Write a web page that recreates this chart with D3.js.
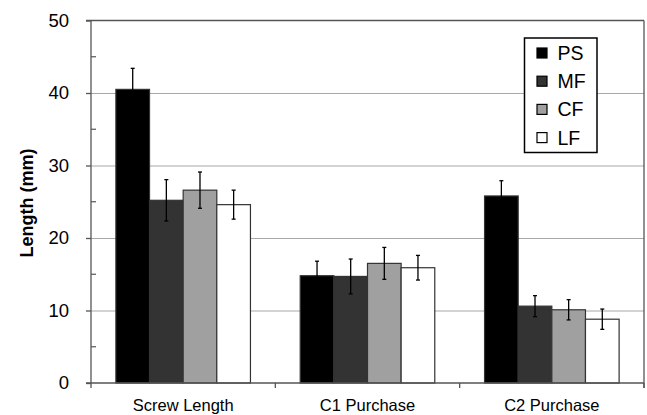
<!DOCTYPE html>
<html><head><meta charset="utf-8">
<script src="https://cdn.jsdelivr.net/npm/d3@7"></script>
<style>body{margin:0;background:#fff}svg{display:block}text{font-family:Arial,"Liberation Sans",sans-serif;fill:#000}</style>
</head><body><svg id="c" width="647" height="415"></svg>
<script>
const categories = ["Screw Length", "C1 Purchase", "C2 Purchase"];
const seriesNames = ["PS", "MF", "CF", "LF"];
const seriesColors = ["#000000", "#333333", "#a0a0a0", "#ffffff"];
const PS = [40.5, 14.8, 25.8];
const MF = [25.2, 14.7, 10.6];
const CF = [26.6, 16.5, 10.1];
const LF = [24.6, 15.9, 8.8];
const PS_err = [2.9, 2.0, 2.1];
const MF_err = [2.85, 2.4, 1.45];
const CF_err = [2.5, 2.2, 1.4];
const LF_err = [2.0, 1.7, 1.4];
const yTicks = [0, 10, 20, 30, 40, 50];
const yMinor = [5, 15, 25, 35, 45];

const values = [PS, MF, CF, LF];
const errs = [PS_err, MF_err, CF_err, LF_err];

const svg = d3.select("#c");
const L = 91, R = 644, T = 20.5, B = 383;
const x0 = d3.scaleBand().domain(categories).range([L, R]).paddingInner(0.27).paddingOuter(0.135);
const x1 = d3.scaleBand().domain(seriesNames).range([0, x0.bandwidth()]);
const y = d3.scaleLinear().domain([0, 50]).range([B, T]);

// gridlines
svg.append("g").selectAll("line").data(yTicks.filter(d => d > 0 && d < 50)).join("line")
  .attr("x1", L).attr("x2", R).attr("y1", d => y(d) + 0.5).attr("y2", d => y(d) + 0.5)
  .attr("stroke", "#a8a8a8").attr("stroke-width", 1.2);

// bars
const g = svg.append("g");
seriesNames.forEach((s, si) => {
  g.append("g").selectAll("rect").data(categories).join("rect")
    .attr("x", c => x0(c) + x1(s))
    .attr("y", (c, i) => y(values[si][i]))
    .attr("width", x1.bandwidth())
    .attr("height", (c, i) => B - y(values[si][i]))
    .attr("fill", seriesColors[si])
    .attr("stroke", "#333").attr("stroke-width", 1.2);
});
// error bars
seriesNames.forEach((s, si) => {
  const eg = g.append("g").attr("stroke", "#000").attr("stroke-width", 1.3);
  categories.forEach((c, i) => {
    const cx = x0(c) + x1(s) + x1.bandwidth() / 2;
    const v = values[si][i], e = errs[si][i];
    eg.append("line").attr("x1", cx).attr("x2", cx).attr("y1", y(v + e)).attr("y2", y(v - e));
    eg.append("line").attr("x1", cx - 2).attr("x2", cx + 2).attr("y1", y(v + e)).attr("y2", y(v + e));
    eg.append("line").attr("x1", cx - 2).attr("x2", cx + 2).attr("y1", y(v - e)).attr("y2", y(v - e));
  });
});

// frame: top and right
svg.append("line").attr("x1", 86).attr("x2", R).attr("y1", y(50)).attr("y2", y(50)).attr("stroke", "#555").attr("stroke-width", 1.3);
svg.append("line").attr("x1", R).attr("x2", R).attr("y1", y(50)).attr("y2", B + 5).attr("stroke", "#555").attr("stroke-width", 1.3);

// y axis
const yAxis = d3.axisLeft(y).tickValues(yTicks).tickSize(5).tickPadding(17).tickFormat(d3.format("d"));
const ya = svg.append("g").attr("transform", `translate(${L},0)`).call(yAxis);
ya.select(".domain").attr("stroke", "#555").attr("stroke-width", 1.3).attr("d", `M0,${B}V${T}`);
ya.selectAll(".tick line").attr("stroke", "#555").attr("stroke-width", 1.3);
ya.selectAll(".tick text").attr("font-size", 18.5).attr("font-family", "Arial, 'Liberation Sans', sans-serif").attr("fill", "#000");
svg.append("g").selectAll("line").data(yMinor).join("line")
  .attr("x1", L).attr("x2", L + 5).attr("y1", d => y(d)).attr("y2", d => y(d)).attr("stroke", "#555").attr("stroke-width", 1.2);

// x axis
svg.append("line").attr("x1", 86).attr("x2", R).attr("y1", B).attr("y2", B).attr("stroke", "#555").attr("stroke-width", 1.3);
const bounds = [L].concat(categories.map(c => x0(c) + x0.bandwidth() + x0.step() * x0.paddingInner() / 2));
svg.append("g").selectAll("line").data(bounds).join("line")
  .attr("x1", d => d).attr("x2", d => d).attr("y1", B).attr("y2", B + 5).attr("stroke", "#555").attr("stroke-width", 1.3);
svg.append("g").selectAll("text").data(categories).join("text")
  .attr("x", c => x0(c) + x0.bandwidth() / 2).attr("y", 410.5)
  .attr("text-anchor", "middle").attr("font-size", 16.5).text(c => c);

// y title
svg.append("text").attr("transform", "translate(33,203) rotate(-90)")
  .attr("text-anchor", "middle").attr("font-size", 18).attr("font-weight", "bold").text("Length (mm)");

// legend
const lg = svg.append("g");
lg.append("rect").attr("x", 524.5).attr("y", 38).attr("width", 72.5).attr("height", 114.5)
  .attr("fill", "#fff").attr("stroke", "#000").attr("stroke-width", 1.5);
seriesNames.forEach((s, si) => {
  const cy = 53 + si * 28.2;
  lg.append("rect").attr("x", 537).attr("y", cy - 5).attr("width", 10).attr("height", 10)
    .attr("fill", seriesColors[si]).attr("stroke", "#000").attr("stroke-width", 1.2);
  lg.append("text").attr("x", 557.5).attr("y", cy + 7).attr("font-size", 19.5).text(s);
});
</script></body></html>
